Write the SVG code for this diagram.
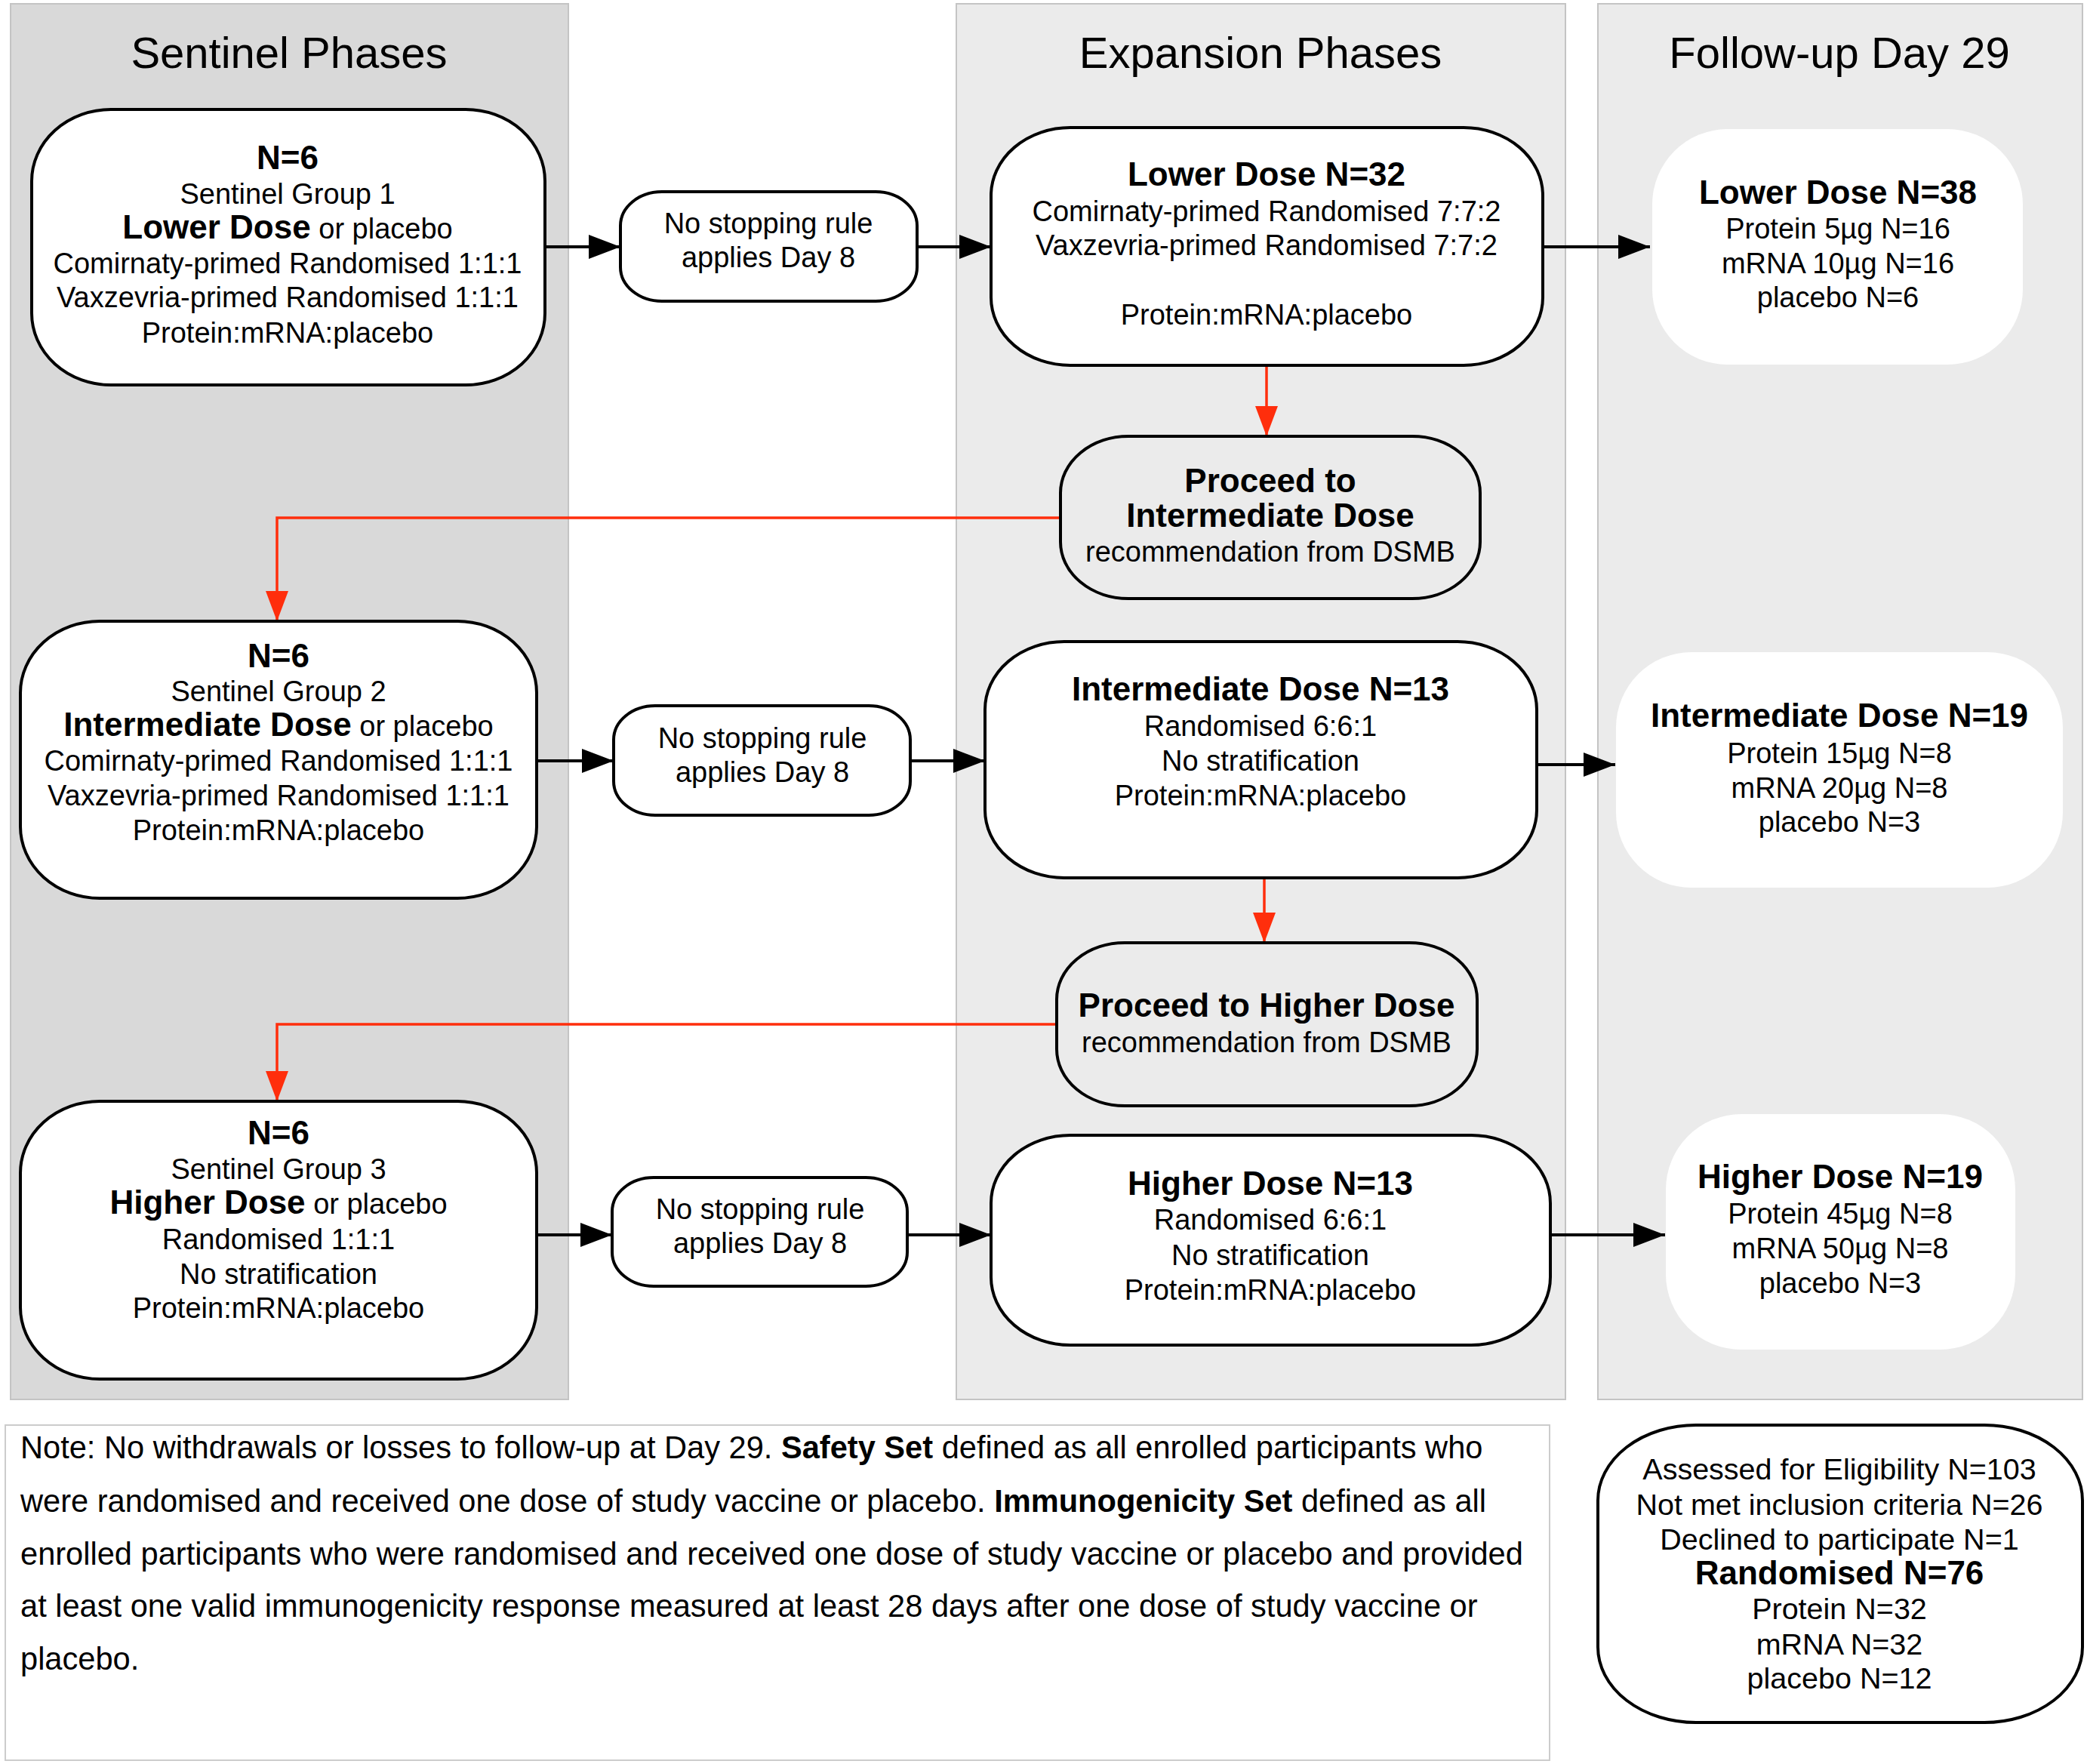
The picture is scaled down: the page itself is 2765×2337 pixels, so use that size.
<svg xmlns="http://www.w3.org/2000/svg" width="2765" height="2337" viewBox="0 0 2765 2337">
<style>
text{font-family:"Liberation Sans",Arial,sans-serif;fill:#000}
.hd{font-size:58px;text-anchor:middle}
.t{font-size:38px;text-anchor:middle}
.b{font-weight:bold;font-size:44px}
.tb{font-size:44px;font-weight:bold;text-anchor:middle}
.e{font-size:39.5px;text-anchor:middle}
.nt{font-size:41.6px}
.node{fill:#fff;stroke:#000;stroke-width:4}
.gnode{fill:none;stroke:#000;stroke-width:4}
.fu{fill:#fff;stroke:none}
.col{stroke:#c4c4c4;stroke-width:2}
.blk{fill:none;stroke:#000;stroke-width:4}
.red{fill:none;stroke:#ff2e0c;stroke-width:3.5}
</style>
<defs>
<marker id="ah" markerUnits="userSpaceOnUse" markerWidth="42" markerHeight="32" refX="42" refY="16" orient="auto"><path d="M0,0 L42,16 L0,32 z" fill="#000"/></marker>
<marker id="ahr" markerUnits="userSpaceOnUse" markerWidth="40" markerHeight="30" refX="40" refY="15" orient="auto"><path d="M0,0 L40,15 L0,30 z" fill="#ff2e0c"/></marker>
</defs>
<rect width="2765" height="2337" fill="#fff"/>
<g id="columns">
<rect class="col" x="14" y="5" width="739" height="1849" fill="#d9d9d9"/>
<rect class="col" x="1267" y="5" width="807" height="1849" fill="#ebebeb"/>
<rect class="col" x="2117" y="5" width="642" height="1849" fill="#ebebeb"/>
<text class="hd" x="383" y="90">Sentinel Phases</text>
<text class="hd" x="1670" y="90">Expansion Phases</text>
<text class="hd" x="2437" y="90">Follow-up Day 29</text>
</g>
<g id="connectors">
<path class="blk" d="M723,327 H822" marker-end="url(#ah)"/>
<path class="blk" d="M1215,327 H1313" marker-end="url(#ah)"/>
<path class="blk" d="M2044,327 H2186" marker-end="url(#ah)"/>
<path class="red" d="M1678,484 V578" marker-end="url(#ahr)"/>
<path class="red" d="M1405,686 H367 V823" marker-end="url(#ahr)"/>
<path class="blk" d="M711,1008 H813" marker-end="url(#ah)"/>
<path class="blk" d="M1206,1008 H1305" marker-end="url(#ah)"/>
<path class="blk" d="M2036,1013 H2140" marker-end="url(#ah)"/>
<path class="red" d="M1675,1163 V1249" marker-end="url(#ahr)"/>
<path class="red" d="M1400,1357 H367 V1459" marker-end="url(#ahr)"/>
<path class="blk" d="M711,1636 H811" marker-end="url(#ah)"/>
<path class="blk" d="M1202,1636 H1313" marker-end="url(#ah)"/>
<path class="blk" d="M2054,1636 H2206" marker-end="url(#ah)"/>
</g>
<g id="sg1">
<rect class="node" x="42" y="145" width="680" height="365" rx="105" ry="95"/>
<text class="tb" x="381" y="224">N=6</text>
<text class="t" x="381" y="270">Sentinel Group 1</text>
<text class="t" x="381" y="316"><tspan class="b">Lower Dose</tspan> or placebo</text>
<text class="t" x="381" y="362">Comirnaty-primed Randomised 1:1:1</text>
<text class="t" x="381" y="407">Vaxzevria-primed Randomised 1:1:1</text>
<text class="t" x="381" y="454">Protein:mRNA:placebo</text>
</g>
<g id="stop1">
<rect class="node" x="822" y="254" width="393" height="145" rx="55" ry="45"/>
<text class="t" x="1018" y="309">No stopping rule</text>
<text class="t" x="1018" y="354">applies Day 8</text>
</g>
<g id="ld32">
<rect class="node" x="1313" y="169" width="731" height="315" rx="105" ry="90"/>
<text class="tb" x="1678" y="246">Lower Dose N=32</text>
<text class="t" x="1678" y="293">Comirnaty-primed Randomised 7:7:2</text>
<text class="t" x="1678" y="338">Vaxzevria-primed Randomised 7:7:2</text>
<text class="t" x="1678" y="430">Protein:mRNA:placebo</text>
</g>
<g id="ld38">
<rect class="fu" x="2189" y="171" width="491" height="312" rx="100" ry="100"/>
<text class="tb" x="2435" y="270">Lower Dose N=38</text>
<text class="t" x="2435" y="316">Protein 5µg N=16</text>
<text class="t" x="2435" y="362">mRNA 10µg N=16</text>
<text class="t" x="2435" y="407">placebo N=6</text>
</g>
<g id="proceed1">
<rect class="gnode" x="1405" y="578" width="556" height="215" rx="90" ry="75"/>
<text class="tb" x="1683" y="652">Proceed to</text>
<text class="tb" x="1683" y="698">Intermediate Dose</text>
<text class="t" x="1683" y="744">recommendation from DSMB</text>
</g>
<g id="sg2">
<rect class="node" x="27" y="823" width="684" height="367" rx="105" ry="95"/>
<text class="tb" x="369" y="884">N=6</text>
<text class="t" x="369" y="929">Sentinel Group 2</text>
<text class="t" x="369" y="975"><tspan class="b">Intermediate Dose</tspan> or placebo</text>
<text class="t" x="369" y="1021">Comirnaty-primed Randomised 1:1:1</text>
<text class="t" x="369" y="1067">Vaxzevria-primed Randomised 1:1:1</text>
<text class="t" x="369" y="1113">Protein:mRNA:placebo</text>
</g>
<g id="stop2">
<rect class="node" x="813" y="935" width="393" height="145" rx="55" ry="45"/>
<text class="t" x="1010" y="991">No stopping rule</text>
<text class="t" x="1010" y="1036">applies Day 8</text>
</g>
<g id="id13">
<rect class="node" x="1305" y="850" width="731" height="313" rx="105" ry="90"/>
<text class="tb" x="1670" y="928">Intermediate Dose N=13</text>
<text class="t" x="1670" y="975">Randomised 6:6:1</text>
<text class="t" x="1670" y="1021">No stratification</text>
<text class="t" x="1670" y="1067">Protein:mRNA:placebo</text>
</g>
<g id="id19">
<rect class="fu" x="2141" y="864" width="592" height="312" rx="100" ry="100"/>
<text class="tb" x="2437" y="963">Intermediate Dose N=19</text>
<text class="t" x="2437" y="1011">Protein 15µg N=8</text>
<text class="t" x="2437" y="1057">mRNA 20µg N=8</text>
<text class="t" x="2437" y="1102">placebo N=3</text>
</g>
<g id="proceed2">
<rect class="gnode" x="1400" y="1249" width="557" height="216" rx="90" ry="75"/>
<text class="tb" x="1678" y="1347">Proceed to Higher Dose</text>
<text class="t" x="1678" y="1394">recommendation from DSMB</text>
</g>
<g id="sg3">
<rect class="node" x="27" y="1459" width="684" height="368" rx="105" ry="95"/>
<text class="tb" x="369" y="1516">N=6</text>
<text class="t" x="369" y="1562">Sentinel Group 3</text>
<text class="t" x="369" y="1608"><tspan class="b">Higher Dose</tspan> or placebo</text>
<text class="t" x="369" y="1655">Randomised 1:1:1</text>
<text class="t" x="369" y="1701">No stratification</text>
<text class="t" x="369" y="1746">Protein:mRNA:placebo</text>
</g>
<g id="stop3">
<rect class="node" x="811" y="1560" width="391" height="144" rx="55" ry="45"/>
<text class="t" x="1007" y="1615">No stopping rule</text>
<text class="t" x="1007" y="1660">applies Day 8</text>
</g>
<g id="hd13">
<rect class="node" x="1313" y="1504" width="741" height="278" rx="105" ry="90"/>
<text class="tb" x="1683" y="1583">Higher Dose N=13</text>
<text class="t" x="1683" y="1629">Randomised 6:6:1</text>
<text class="t" x="1683" y="1676">No stratification</text>
<text class="t" x="1683" y="1722">Protein:mRNA:placebo</text>
</g>
<g id="hd19">
<rect class="fu" x="2207" y="1476" width="463" height="312" rx="100" ry="100"/>
<text class="tb" x="2438" y="1574">Higher Dose N=19</text>
<text class="t" x="2438" y="1621">Protein 45µg N=8</text>
<text class="t" x="2438" y="1667">mRNA 50µg N=8</text>
<text class="t" x="2438" y="1713">placebo N=3</text>
</g>
<g id="note">
<rect x="7" y="1888" width="2046" height="444" fill="#fff" stroke="#cccccc" stroke-width="2"/>
<text class="nt" x="27" y="1932">Note: No withdrawals or losses to follow-up at Day 29. <tspan font-weight="bold">Safety Set</tspan> defined as all enrolled participants who</text>
<text class="nt" x="27" y="2003">were randomised and received one dose of study vaccine or placebo. <tspan font-weight="bold">Immunogenicity Set</tspan> defined as all</text>
<text class="nt" x="27" y="2073">enrolled participants who were randomised and received one dose of study vaccine or placebo and provided</text>
<text class="nt" x="27" y="2142">at least one valid immunogenicity response measured at least 28 days after one dose of study vaccine or</text>
<text class="nt" x="27" y="2212">placebo.</text>
</g>
<g id="eligibility">
<rect class="node" x="2117" y="1888" width="642" height="394" rx="130" ry="100"/>
<text class="e" x="2437" y="1960">Assessed for Eligibility N=103</text>
<text class="e" x="2437" y="2007">Not met inclusion criteria N=26</text>
<text class="e" x="2437" y="2053">Declined to participate N=1</text>
<text class="tb" x="2437" y="2099">Randomised N=76</text>
<text class="e" x="2437" y="2145">Protein N=32</text>
<text class="e" x="2437" y="2192">mRNA N=32</text>
<text class="e" x="2437" y="2237">placebo N=12</text>
</g>
</svg>
